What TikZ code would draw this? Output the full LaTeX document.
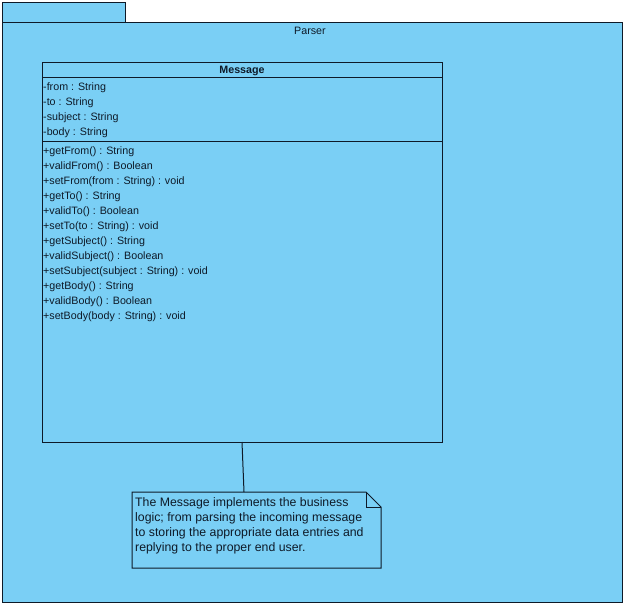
\documentclass[tikz,border=0pt]{standalone}
\usepackage{fontspec}
\setmainfont{Liberation Sans}
\definecolor{pkgblue}{HTML}{7ACFF5}
\definecolor{ink}{HTML}{0E1A28}
\begin{document}
\begin{tikzpicture}[x=1pt,y=-1pt,
  box/.style={draw=ink,fill=pkgblue,line width=1pt,inner sep=0pt,anchor=north west},
  mem/.style={anchor=west,inner sep=0pt,font=\fontsize{10.7}{12}\selectfont,text=ink},
  noteline/.style={anchor=west,inner sep=0pt,font=\fontsize{12.3}{15}\selectfont,text=ink}]
\useasboundingbox (0,0) rectangle (626,606);
% package
\node[box,minimum width=123pt,minimum height=20pt] (tab) at (2,2) {};
\node[box,minimum width=620pt,minimum height=580pt] (pkg) at (2,22) {};
\node[mem,anchor=center] (pkgname) at (310,31) {Parser};
% class
\node[box,minimum width=400pt,minimum height=380pt] (cls) at (42,62) {};
\draw[ink,line width=1pt] (42,77) -- (442,77);
\draw[ink,line width=1pt] (42,141) -- (442,141);
\node[mem,anchor=center,font=\fontsize{10.7}{12}\bfseries] (clsname) at (242,70.5) {Message};
\foreach \t [count=\i from 0] in {-from : String,-to : String,-subject : String,-body : String}
  \node[mem] (a\i) at (43,88+15*\i) {\t};
\foreach \t [count=\i from 0] in {+getFrom() : String,+validFrom() : Boolean,+setFrom(from : String) : void,+getTo() : String,+validTo() : Boolean,+setTo(to : String) : void,+getSubject() : String,+validSubject() : Boolean,+setSubject(subject : String) : void,+getBody() : String,+validBody() : Boolean,+setBody(body : String) : void}
  \node[mem] (m\i) at (43,152+15*\i) {\t};
% note
\draw[ink,line width=1pt,fill=pkgblue] (132,492) -- (366,492) -- (381,507) -- (381,568) -- (132,568) -- cycle;
\draw[ink,line width=1pt] (366,492) -- (366,507) -- (381,507);
\node[inner sep=0pt,minimum width=249pt,minimum height=76pt,anchor=north west] (note) at (132,492) {};
\foreach \t [count=\i from 0] in {The Message implements the business,logic; from parsing the incoming message,to storing the appropriate data entries and,replying to the proper end user.}
  \node[noteline] (n\i) at (135,503+15*\i) {\t};
\coordinate (cbot) at (242,442);
\coordinate (ntop) at (244,492);
\draw[ink,line width=1pt] (cbot) -- (ntop);
\end{tikzpicture}
\end{document}
